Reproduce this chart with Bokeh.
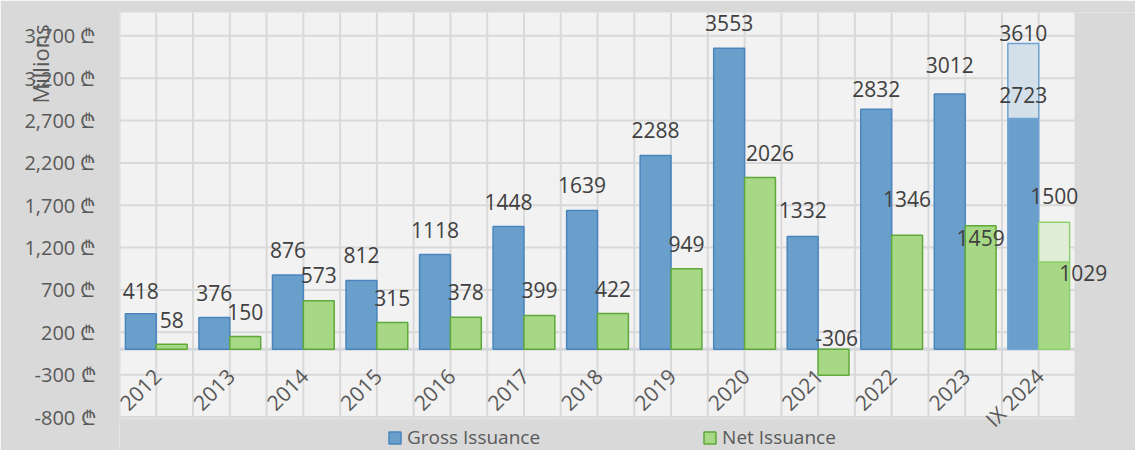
import numpy as np
from math import pi
from bokeh.plotting import figure
from bokeh.models import (Range1d, FixedTicker, CustomJSTickFormatter, Legend, LegendItem)
from bokeh.core.properties import value
from bokeh.embed import file_html
from bokeh.resources import INLINE

# ---------------- data ----------------
periods = ["2012", "2013", "2014", "2015", "2016", "2017", "2018", "2019",
           "2020", "2021", "2022", "2023", "IX 2024"]
gross_issuance = [418, 376, 876, 812, 1118, 1448, 1639, 2288, 3553, 1332, 2832, 3012, 2723]
net_issuance = [58, 150, 573, 315, 378, 399, 422, 949, 2026, -306, 1346, 1459, 1029]
gross_plan_2024 = [3610]
net_plan_2024 = [1500]
y_ticks = [-800, -300, 200, 700, 1200, 1700, 2200, 2700, 3200, 3700]

# ---------------- layout / label nudges (pixels) ----------------
gross_label_dy = [-23, -24, -25, -25, -25, -25, -25, -25, -25, -26, -20, -29, -24]
net_label_dy = [-24, -25, -26, -25, -25, -25, -25, -25, -25, -11, -36, 12, 11]
net_label_dx = [0, 0, 0, 0, 0, 0, 0, 0, 10, 3, 0, 0, 29]

FONT = "Open Sans"
TXT = "#404040"
AX = "#595959"
BG_OUT, BG_IN, GRID = "#d9d9d9", "#f2f2f2", "#d9d9d9"
BLUE_FILL, BLUE_LINE = "#6a9fcb", "#4a85be"
GREEN_FILL, GREEN_LINE = "#a6d886", "#5fa83a"

n = len(periods)
xc = np.arange(n) + 0.5
BW = 0.42
xg = xc - 0.21
xn = xc + 0.21
Y_LO, Y_HI = -818, 3975          # plot-area extent (data units)

p = figure(width=1135, height=450, output_backend="svg", toolbar_location=None,
           x_range=Range1d(0, 13.816), y_range=Range1d(-1195, Y_HI), x_axis_location=None,
           min_border_left=119, min_border_right=0, min_border_top=12, min_border_bottom=0)
p.background_fill_color = BG_OUT
p.border_fill_color = BG_OUT
p.outline_line_color = None
p.xgrid.visible = False
p.ygrid.visible = False

# plot area + grid
p.quad(left=0, right=n, bottom=Y_LO, top=Y_HI, fill_color=BG_IN, line_color=None)
vx = list(np.arange(0, n + 0.01, 0.5))
p.segment(x0=vx, x1=vx, y0=Y_LO, y1=Y_HI, line_color=GRID, line_width=2)
p.segment(x0=0, x1=n, y0=y_ticks, y1=y_ticks, line_color=GRID, line_width=2)
p.segment(x0=0, x1=n, y0=0, y1=0, line_color="#d3d6da", line_width=3)

ya = p.yaxis[0]
ya.ticker = FixedTicker(ticks=y_ticks)
ya.formatter = CustomJSTickFormatter(code="return tick.toLocaleString('en-US') + ' \\u20BE';")
ya.axis_line_color = None
ya.major_tick_line_color = None
ya.minor_tick_line_color = None
ya.major_tick_out = 0
ya.major_label_standoff = 24
ya.major_label_text_font = FONT
ya.major_label_text_font_size = "20px"
ya.major_label_text_color = AX
# axis title sits at the top end of the axis, overlapping the tick labels
ya.axis_label = "Millions" + "\u00a0" * 18
ya.axis_label_text_font = FONT
ya.axis_label_text_font_size = "22px"
ya.axis_label_text_font_style = "normal"
ya.axis_label_text_color = AX
ya.axis_label_standoff = -34
try:
    ya.axis_label_align = "end"
except AttributeError:
    pass

gross_lines = [BLUE_LINE] * (n - 1) + ["#6fa3d3"]
net_lines = [GREEN_LINE] * (n - 1) + ["#8fd16f"]

gross_r = p.vbar(x=xg, bottom=0, top=gross_issuance, width=BW, fill_color=BLUE_FILL,
                 line_color=gross_lines, line_width=1.5)
net_r = p.vbar(x=xn, bottom=0, top=net_issuance, width=BW, fill_color=GREEN_FILL,
               line_color=net_lines, line_width=1.5)
p.vbar(x=[xg[-1]], bottom=[gross_issuance[-1]], top=gross_plan_2024, width=BW,
       fill_color="#d3dfe9", line_color="#6fa3d3", line_width=1.5)
p.vbar(x=[xn[-1]], bottom=[net_issuance[-1]], top=net_plan_2024, width=BW,
       fill_color="#e0eed8", line_color="#8fd16f", line_width=1.5)

lbl = dict(text_font=value(FONT), text_font_size="21px", text_color=TXT,
           text_align="center", text_baseline="alphabetic")
p.text(x=xg, y=gross_issuance, text=[str(v) for v in gross_issuance], y_offset=gross_label_dy, **lbl)
p.text(x=xn, y=[max(v, 0) for v in net_issuance], text=[str(v) for v in net_issuance],
       x_offset=net_label_dx, y_offset=net_label_dy, **lbl)
p.text(x=[xg[-1]], y=gross_plan_2024, text=[str(v) for v in gross_plan_2024], y_offset=-10, **lbl)
p.text(x=[xn[-1]], y=net_plan_2024, text=[str(v) for v in net_plan_2024], y_offset=-26, **lbl)

# category labels at the zero line, rotated
p.text(x=xc, y=[0] * n, text=periods, angle=pi / 4, text_align="right", text_baseline="middle",
       x_offset=1, y_offset=23, text_font=value(FONT), text_font_size="21px", text_color=AX)

legend = Legend(items=[LegendItem(label="Gross Issuance", renderers=[gross_r]),
                       LegendItem(label="Net Issuance", renderers=[net_r])],
                orientation="horizontal", location=(268, 0), spacing=162,
                glyph_width=15, glyph_height=15, label_standoff=5, padding=0, margin=0,
                background_fill_alpha=0, border_line_color=None,
                label_text_font=FONT, label_text_font_size="19px", label_text_color=AX)
p.add_layout(legend)

open("out.html", "w", encoding="utf-8").write(file_html(p, INLINE))
